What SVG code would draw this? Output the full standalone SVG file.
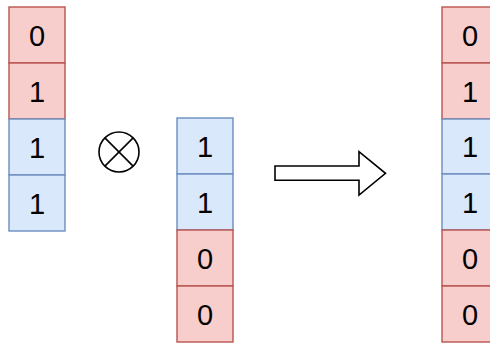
<svg xmlns="http://www.w3.org/2000/svg" width="490" height="343" viewBox="0 0 490 343">
  <style>
    .r { fill: #f8cecc; stroke: #b85450; stroke-width: 1.4; }
    .b { fill: #dae8fc; stroke: #6c8ebf; stroke-width: 1.4; }
    .t { font-family: "Liberation Sans", Arial, Helvetica, sans-serif; font-size: 29px; fill: #000; text-anchor: middle; }
    .ln { fill: none; stroke: #000; stroke-width: 1.6; }
  </style>
  <rect width="490" height="343" fill="#fff"/>

  <!-- left vector -->
  <g id="a0"><rect class="r" x="9" y="7" width="56" height="56"/><text class="t" x="37" y="46">0</text></g>
  <g id="a1"><rect class="r" x="9" y="63" width="56" height="56"/><text class="t" x="37" y="102">1</text></g>
  <g id="a2"><rect class="b" x="9" y="119" width="56" height="56"/><text class="t" x="37" y="158">1</text></g>
  <g id="a3"><rect class="b" x="9" y="175" width="56" height="56"/><text class="t" x="37" y="214">1</text></g>

  <!-- tensor product operator -->
  <g id="otimes">
    <circle class="ln" cx="119" cy="152" r="20"/>
    <line class="ln" x1="104.9" y1="137.9" x2="133.1" y2="166.1"/>
    <line class="ln" x1="133.1" y1="137.9" x2="104.9" y2="166.1"/>
  </g>

  <!-- middle vector -->
  <g id="b0"><rect class="b" x="177" y="118" width="56" height="56"/><text class="t" x="205" y="157">1</text></g>
  <g id="b1"><rect class="b" x="177" y="174" width="56" height="56"/><text class="t" x="205" y="213">1</text></g>
  <g id="b2"><rect class="r" x="177" y="230" width="56" height="56"/><text class="t" x="205" y="269">0</text></g>
  <g id="b3"><rect class="r" x="177" y="286" width="56" height="56"/><text class="t" x="205" y="325">0</text></g>

  <!-- result arrow -->
  <g id="connectors">
    <path class="ln" d="M275 166 L359 166 L359 151.7 L385.5 173.3 L359 195 L359 180.3 L275 180.3 Z" style="fill:#fff"/>
  </g>

  <!-- result vector -->
  <g id="c0"><rect class="r" x="442" y="7" width="56" height="56"/><text class="t" x="470" y="46">0</text></g>
  <g id="c1"><rect class="r" x="442" y="63" width="56" height="56"/><text class="t" x="470" y="102">1</text></g>
  <g id="c2"><rect class="b" x="442" y="119" width="56" height="55"/><text class="t" x="470" y="157">1</text></g>
  <g id="c3"><rect class="b" x="442" y="174" width="56" height="56"/><text class="t" x="470" y="213">1</text></g>
  <g id="c4"><rect class="r" x="442" y="230" width="56" height="56"/><text class="t" x="470" y="269">0</text></g>
  <g id="c5"><rect class="r" x="442" y="286" width="56" height="56"/><text class="t" x="470" y="325">0</text></g>
</svg>
